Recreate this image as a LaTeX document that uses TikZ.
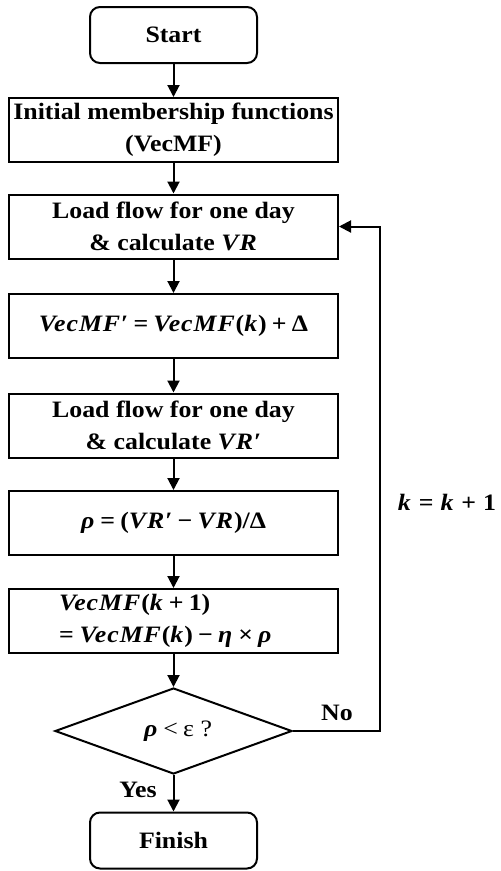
\documentclass[tikz,border=0pt]{standalone}
\usepackage{fontspec}
\setmainfont[FakeStretch=1.1]{Liberation Serif}
\usetikzlibrary{shapes.geometric,arrows.meta}
\newcommand\mi[1]{\textbf{\textit{\addfontfeature{LetterSpace=4}#1}}}
\newcommand\rel[1]{\hspace{0.22em}#1\hspace{0.22em}}
\newcommand\wrel[1]{\hspace{0.3em}#1\hspace{0.3em}}
\begin{document}
\begin{tikzpicture}[x=1pt,y=-1pt,line width=2pt,
  txt/.style={font=\fontsize{23.5}{32}\selectfont\bfseries},
  box/.style={draw,txt,minimum width=329pt,minimum height=64pt,inner sep=0pt,align=center},
  term/.style={draw,txt,rounded corners=10pt,minimum width=167pt,minimum height=56pt,inner sep=0pt},
  arr/.style={-{Triangle[length=12pt,width=12pt]}}]
\useasboundingbox (0,0) rectangle (501,871);
\node[term] (start) at (173.5,35) {Start};
\node[box] (init) at (173.5,130) {Initial membership functions\\(VecMF)};
\node[box] (lf1) at (173.5,226.5) {Load flow for one day\\\& calculate \mi{VR}};
\node[box] (vec) at (173.5,326) {\mi{VecMF}′\rel{=}\mi{VecMF}(\mi{k})\rel{+}Δ};
\node[box] (lf2) at (173.5,425.5) {Load flow for one day\\\& calculate \mi{VR}′};
\node[box] (rho) at (173.5,523) {\mi{ρ}\rel{=}(\mi{VR}′\rel{−}\mi{VR})/Δ};
\node[box,align=left,text width=229pt,inner xsep=50pt] (upd) at (173.5,621) {\fontsize{23.5}{30}\selectfont\mi{VecMF}(\mi{k}\rel{+}1)\\=\hspace{0.25em}\mi{VecMF}(\mi{k})\rel{−}\mi{η}\rel{×}\mi{ρ}};
\node[draw,diamond,minimum width=237pt,minimum height=86pt,inner sep=0pt] (dec) at (173.5,731) {};
\node[font=\fontsize{23.5}{26}\selectfont] (dectext) at (178,731) {\mi{ρ}\rel{<}ε ?};
\node[term] (finish) at (173.5,840.5) {Finish};
\coordinate (loop) at (380,226.5);
\draw[arr] (start) -- (init);
\draw[arr] (init) -- (lf1);
\draw[arr] (lf1) -- (vec);
\draw[arr] (vec) -- (lf2);
\draw[arr] (lf2) -- (rho);
\draw[arr] (rho) -- (upd);
\draw[arr] (upd) -- (dec);
\draw[arr] (dec) -- (finish);
\draw[arr] (dec.east) -| (loop) -- (lf1.east);
\node[txt] (no) at (337,713) {No};
\node[txt] (yes) at (138,790) {Yes};
\node[txt] (kk) at (447,502) {\mi{k}\wrel{=}\mi{k}\wrel{+}1};
\end{tikzpicture}
\end{document}
